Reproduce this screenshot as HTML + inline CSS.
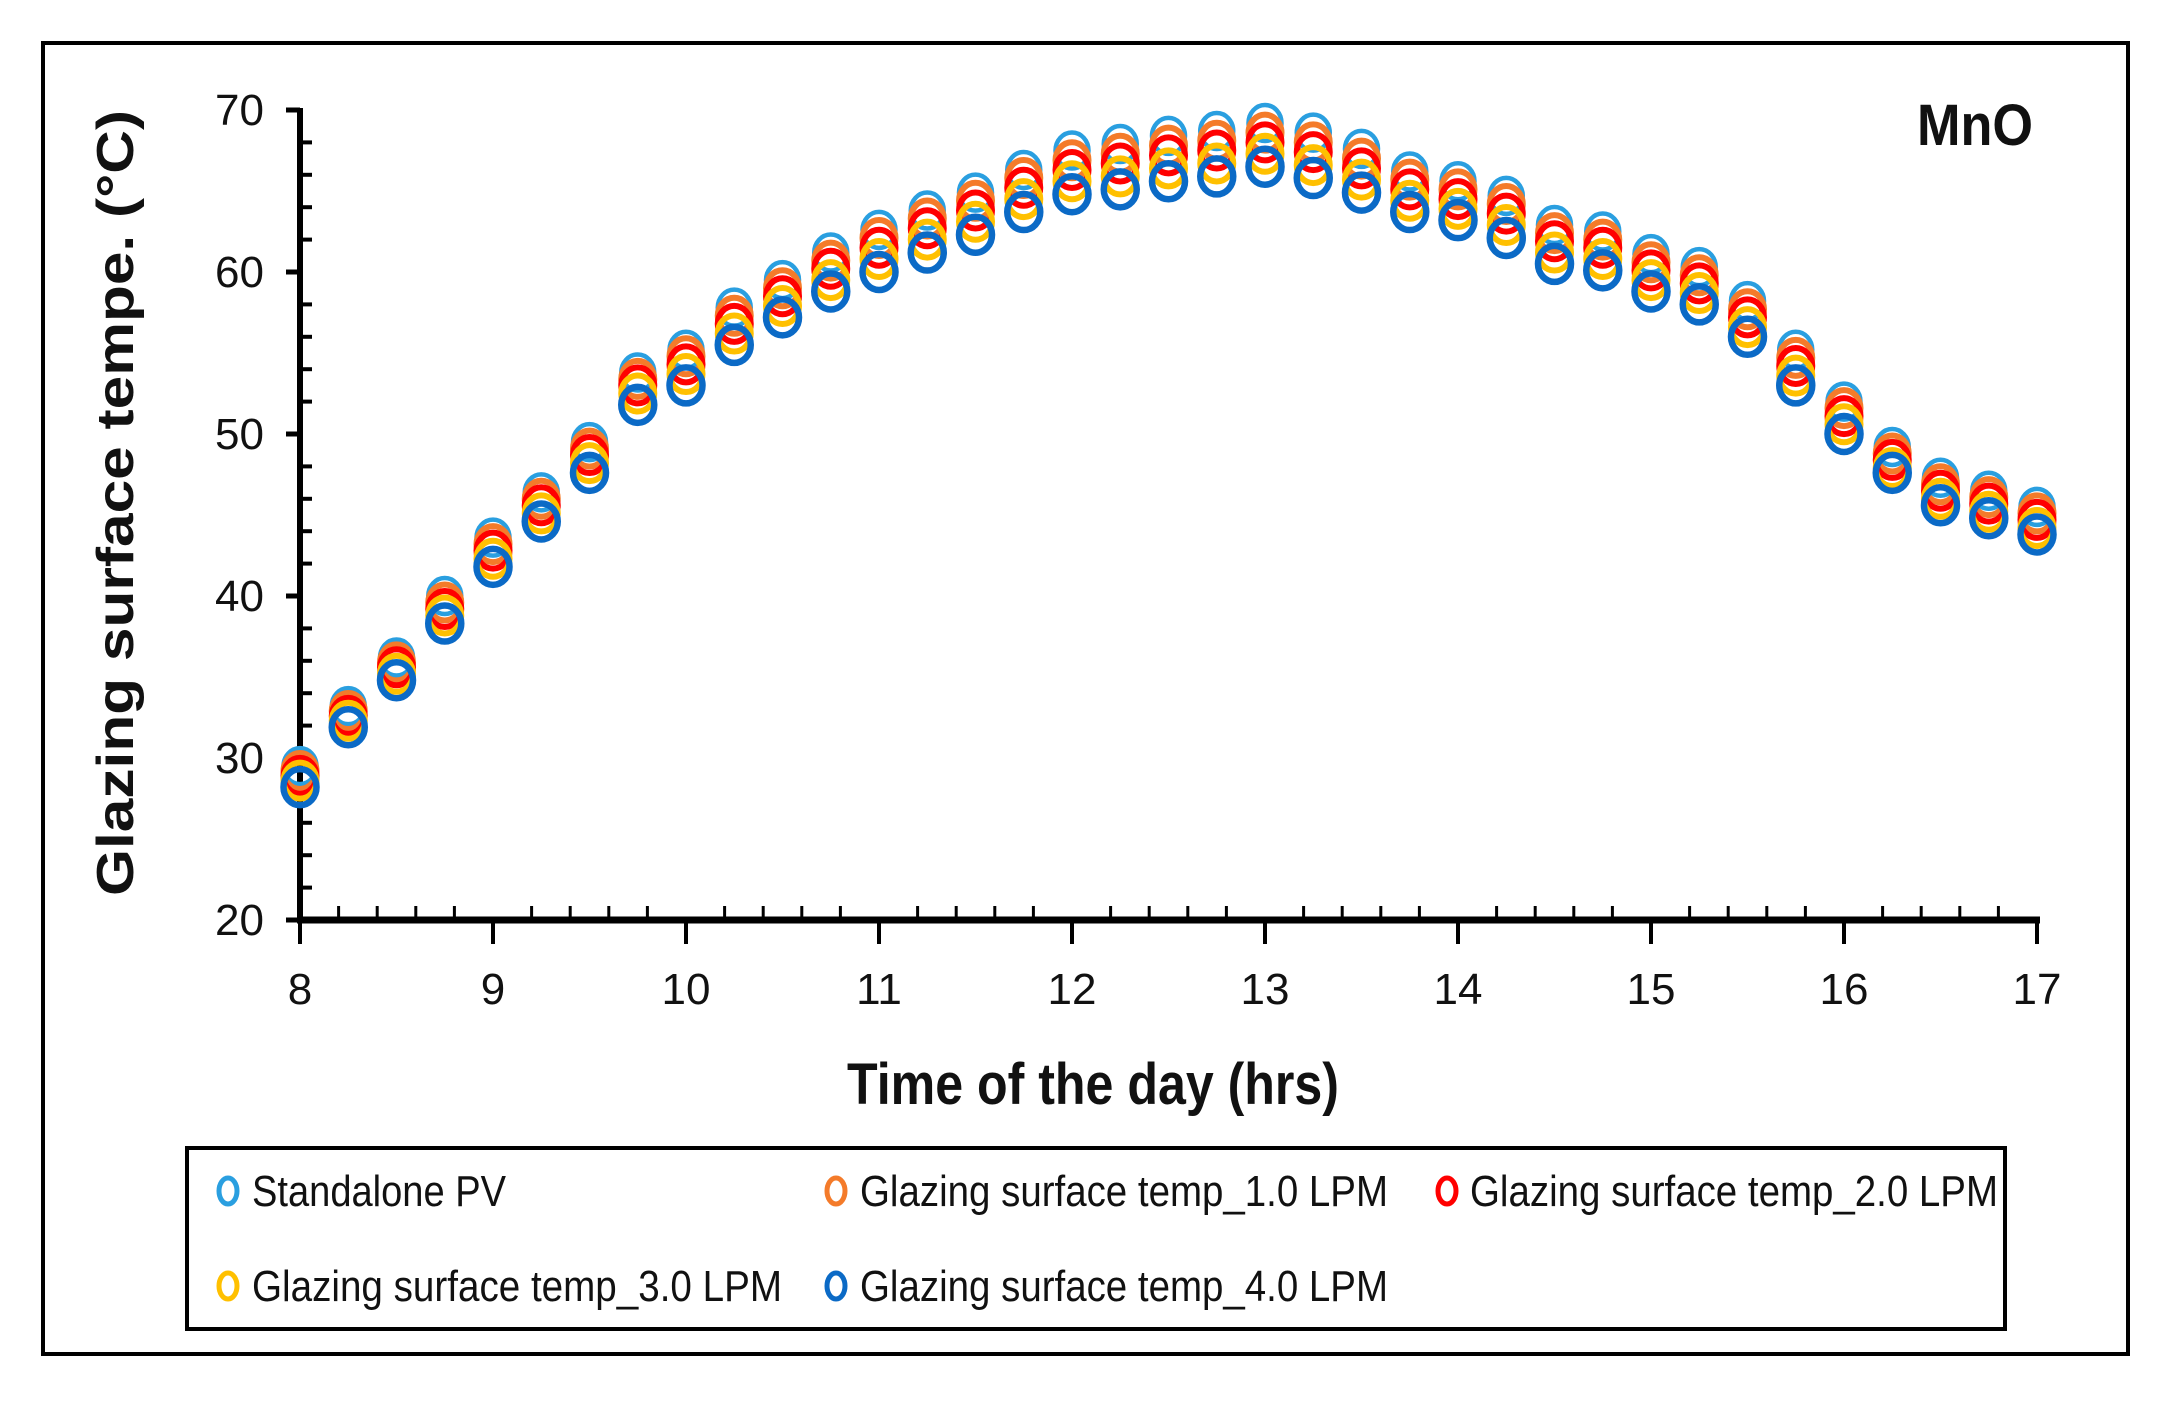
<!DOCTYPE html>
<html><head><meta charset="utf-8"><style>
html,body{margin:0;padding:0;background:#fff}
svg{display:block}
text{font-family:"Liberation Sans",sans-serif;fill:#111}
</style></head><body>
<svg id="chart" width="2170" height="1405" viewBox="0 0 2170 1405">
<rect x="43" y="43" width="2085" height="1311" fill="none" stroke="#000" stroke-width="4"/>
<g id="axes"></g>
<g id="marks"></g>
<text x="1975" y="145" font-size="58" font-weight="bold" text-anchor="middle" textLength="116" lengthAdjust="spacingAndGlyphs">MnO</text>
<text transform="translate(133,503) rotate(-90)" font-size="52" font-weight="bold" text-anchor="middle" textLength="786" lengthAdjust="spacingAndGlyphs">Glazing surface tempe. (°C)</text>
<text x="1093" y="1104" font-size="58" font-weight="bold" text-anchor="middle" textLength="492" lengthAdjust="spacingAndGlyphs">Time of the day (hrs)</text>
<g>
<rect x="187" y="1148" width="1818" height="181" fill="none" stroke="#000" stroke-width="4"/>
<g id="legend-items"></g>
</g>
</svg>
<script>
const times = [8,8.25,8.5,8.75,9,9.25,9.5,9.75,10,10.25,10.5,10.75,11,11.25,11.5,11.75,12,12.25,12.5,12.75,13,13.25,13.5,13.75,14,14.25,14.5,14.75,15,15.25,15.5,15.75,16,16.25,16.5,16.75,17];
const standalonePV = [29.5,33.2,36.2,40,43.6,46.4,49.5,53.8,55.2,57.8,59.5,61.2,62.6,63.8,64.9,66.3,67.5,67.9,68.4,68.7,69.2,68.6,67.6,66.2,65.6,64.7,62.9,62.5,61.1,60.3,58.2,55.2,52,49.2,47.3,46.5,45.5];
const lpm1 = [29.2,32.9,35.9,39.6,43.2,46.0,49.1,53.4,54.8,57.3,59.0,60.7,62.1,63.3,64.4,65.8,66.9,67.3,67.8,68.1,68.6,68.0,67.0,65.7,65.1,64.2,62.4,62.0,60.6,59.8,57.7,54.7,51.6,48.8,46.9,46.1,45.1];
const lpm2 = [28.9,32.6,35.6,39.2,42.8,45.6,48.7,53.0,54.3,56.8,58.5,60.2,61.5,62.7,63.8,65.2,66.3,66.7,67.2,67.5,68.0,67.4,66.4,65.1,64.5,63.6,61.9,61.5,60.1,59.3,57.2,54.2,51.1,48.4,46.5,45.7,44.7];
const lpm3 = [28.6,32.3,35.2,38.8,42.3,45.1,48.2,52.5,53.7,56.2,57.9,59.5,60.8,62.0,63.1,64.5,65.6,65.9,66.4,66.7,67.3,66.6,65.7,64.4,63.9,62.9,61.2,60.8,59.5,58.7,56.6,53.6,50.6,47.9,46.0,45.2,44.2];
const lpm4 = [28.2,31.9,34.8,38.3,41.8,44.6,47.6,51.8,53,55.5,57.2,58.8,60,61.2,62.3,63.7,64.8,65.1,65.6,65.9,66.5,65.8,64.9,63.7,63.2,62.1,60.5,60.1,58.8,58,56,53,50,47.6,45.6,44.8,43.8];
const seriesNames = ["Standalone PV","Glazing surface temp_1.0 LPM","Glazing surface temp_2.0 LPM","Glazing surface temp_3.0 LPM","Glazing surface temp_4.0 LPM"];
const xTicks = [8,9,10,11,12,13,14,15,16,17];
const yTicks = [20,30,40,50,60,70];

const NS="http://www.w3.org/2000/svg";
const X0=300,X1=2037,Y0=920,Y1=110;
const xScale=t=>X0+(t-8)/(17-8)*(X1-X0);
const yScale=v=>Y0-(v-20)/(70-20)*(Y0-Y1);
function mk(tag,attrs,parent){const e=document.createElementNS(NS,tag);for(const k in attrs)e.setAttribute(k,attrs[k]);parent.appendChild(e);return e;}
const axes=document.getElementById('axes');
const marks=document.getElementById('marks');

let yl=mk('line',{x1:X0,y1:Y1-2,x2:X0,y2:Y0+3,stroke:'#000','stroke-width':6},axes);


let xl=mk('line',{x1:X0-3,y1:Y0,x2:X1+3,y2:Y0,stroke:'#000','stroke-width':7},axes);


for(let v=20;v<=70;v+=2){
  if(v%10===0){mk('line',{x1:X0-14,y1:yScale(v),x2:X0,y2:yScale(v),stroke:'#000','stroke-width':5},axes);}
  else{mk('line',{x1:X0,y1:yScale(v),x2:X0+12,y2:yScale(v),stroke:'#000','stroke-width':4},axes);}
}
for(let i=0;i<=45;i++){
  const t=8+i*0.2;const x=xScale(t);
  if(i%5===0){mk('line',{x1:x,y1:Y0,x2:x,y2:Y0+24,stroke:'#000','stroke-width':4},axes);}
  else{mk('line',{x1:x,y1:Y0-14,x2:x,y2:Y0,stroke:'#000','stroke-width':3},axes);}
}
yTicks.forEach(v=>{
  const t=mk('text',{x:X0-36,y:yScale(v)+15,'font-size':44,'text-anchor':'end'},axes);
  t.textContent=v;
  
  
});
xTicks.forEach(v=>{
  const t=mk('text',{x:xScale(v),y:1004,'font-size':44,'text-anchor':'middle'},axes);
  t.textContent=v;
  
  
});

const seriesData=[standalonePV,lpm1,lpm2,lpm3,lpm4];
const colors=['#2a9fe0','#f47b2a','#ff0000','#ffc000','#0b6ac6'];
const widths=[4.5,6,6,6,6.5];
const keys=['standalone-pv','lpm-1','lpm-2','lpm-3','lpm-4'];
seriesData.forEach((arr,s)=>{
  const g=mk('g',{},marks);
  
  
  arr.forEach((v,i)=>{
    const c=mk('ellipse',{cx:xScale(times[i]),cy:yScale(v),rx:16.5,ry:18,fill:'none',stroke:colors[s],'stroke-width':widths[s]},g);
    
    
  });
});

const leg=document.getElementById('legend-items');
const legPos=[[228,1191,252,254],[836,1191,860,528],[1447,1191,1470,528],[228,1286,252,530],[836,1286,860,528]];
seriesNames.forEach((n,s)=>{
  const p=legPos[s];
  const g=mk('g',{},leg);
  
  
  mk('ellipse',{cx:p[0],cy:p[1],rx:9,ry:13,fill:'none',stroke:colors[s],'stroke-width':5},g);
  const t=mk('text',{x:p[2],y:p[1]+15,'font-size':44,textLength:p[3],lengthAdjust:'spacingAndGlyphs'},g);
  t.textContent=n;
});
</script>
</body></html>
